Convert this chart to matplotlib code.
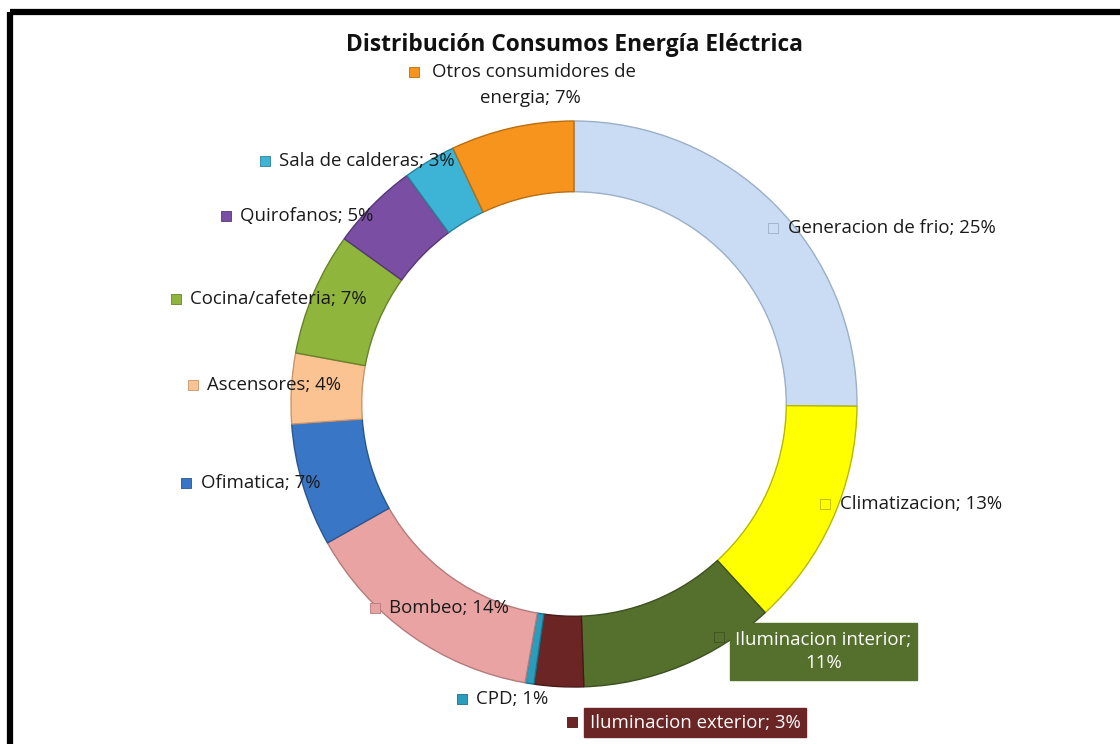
import numpy as np
import matplotlib
matplotlib.use("Agg")
import matplotlib.pyplot as plt
from matplotlib.patches import Rectangle

# ── Data ─────────────────────────────────────────────────────────────────────
categories = [
    "Generacion de frio", "Climatizacion", "Iluminacion interior",
    "Iluminacion exterior", "CPD", "Bombeo", "Ofimatica", "Ascensores",
    "Cocina/cafeteria", "Quirofanos", "Sala de calderas",
    "Otros consumidores de energia",
]
values = [25.0, 13.0, 11.2, 2.8, 0.5, 14.0, 7.0, 4.0, 7.0, 5.0, 3.0, 7.0]
pct_labels = ["25%", "13%", "11%", "3%", "1%", "14%", "7%", "4%", "7%", "5%", "3%", "7%"]
colors = ["#c9dcf4", "#ffff00", "#55702c", "#6b2525", "#2a9cbc", "#e9a3a3",
          "#3a76c6", "#fac391", "#8fb53c", "#7a4ea2", "#3db4d6", "#f7941d"]
edges = ["#9aafc8", "#b8b800", "#3c5020", "#4a1818", "#1d6f86", "#b47c7c",
         "#2a568f", "#c9966c", "#67832a", "#573778", "#2b8199", "#b96d12"]

W, H = 1120, 744
CX, CY, R = 574, 404, 283

fig = plt.figure(figsize=(W / 100, H / 100), dpi=100)
ax = fig.add_axes([0, 0, 1, 1])

wedges, _ = ax.pie(values, colors=colors, startangle=90, counterclock=False,
                   radius=R, center=(CX, H - CY),
                   wedgeprops=dict(width=R * 0.25, linewidth=1.0))
for w, ec in zip(wedges, edges):
    w.set_edgecolor(ec)

ax.set_xlim(0, W)
ax.set_ylim(0, H)
ax.set_aspect("equal")
ax.axis("off")

# frame lines (top and left)
ax.plot([10, W], [H - 11.5, H - 11.5], color="black", lw=4.5, solid_capstyle="butt")
ax.plot([10, 10], [0, H - 11.5], color="black", lw=4.5, solid_capstyle="butt")

FONT = ["Open Sans", "DejaVu Sans"]
FS = 13.4

ax.text(575, H - 45, "Distribución Consumos Energía Eléctrica", ha="center",
        va="center", fontsize=16.4, fontweight="bold", family=FONT, color="#111111")


def label(idx, mx, my, text, tx=None, box=None):
    ax.scatter([mx], [H - my], marker="s", s=45, color=colors[idx],
               edgecolors=edges[idx], linewidths=0.6, zorder=6)
    kw = dict(fontsize=FS, family=FONT, va="center", zorder=7,
              color="white" if box else "#1a1a1a", multialignment="center")
    if box:
        x0, y0, x1, y1 = box
        ax.add_patch(Rectangle((x0, H - y1), x1 - x0, y1 - y0, color=colors[idx], zorder=5))
        ax.text((x0 + x1) / 2, H - (y0 + y1) / 2, text, ha="center", linespacing=1.3, **kw)
    else:
        ax.text(tx if tx else mx + 14, H - my, text, ha="left", **kw)


label(11, 414, 72, "Otros consumidores de", tx=432)
ax.text(530, H - 98, f"energia; {pct_labels[11]}", ha="center", va="center",
        fontsize=FS, family=FONT, color="#1a1a1a")
label(10, 265, 161, f"{categories[10]}; {pct_labels[10]}")
label(9, 226, 216, f"{categories[9]}; {pct_labels[9]}")
label(0, 773, 228, f"{categories[0]}; {pct_labels[0]}", tx=788)
label(8, 176, 299, f"{categories[8]}; {pct_labels[8]}", tx=190)
label(7, 193, 385, f"{categories[7]}; {pct_labels[7]}", tx=207)
label(6, 186, 483, f"{categories[6]}; {pct_labels[6]}", tx=201)
label(1, 825, 504, f"{categories[1]}; {pct_labels[1]}", tx=840)
label(5, 375, 608, f"{categories[5]}; {pct_labels[5]}", tx=389)
label(2, 719, 637, f"{categories[2]};\n{pct_labels[2]}", box=(730, 623, 917, 680))
label(4, 462, 699, f"{categories[4]}; {pct_labels[4]}", tx=476)
label(3, 572, 722, f"{categories[3]}; {pct_labels[3]}", box=(584, 708, 806, 737))

fig.savefig("out.png", dpi=100, facecolor="white")
